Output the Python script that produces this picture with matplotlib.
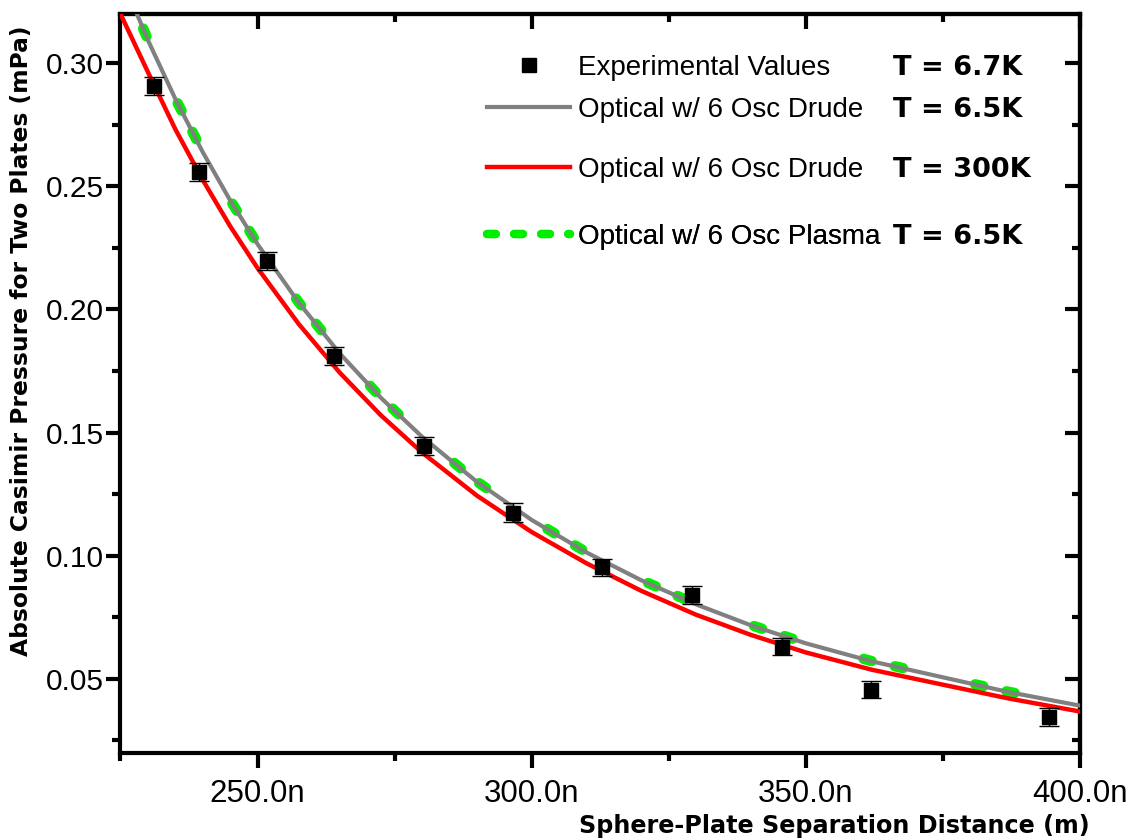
import matplotlib
matplotlib.use('Agg')
import matplotlib.pyplot as plt
from matplotlib.lines import Line2D
from matplotlib.ticker import FixedLocator, FuncFormatter

# measured points: separation (nm) and pressure (mPa)
exp_x = [231.1, 239.4, 251.7, 264.0, 280.4, 296.6, 312.9, 329.3, 345.6, 361.9, 394.4]
exp_y = [0.2908, 0.2558, 0.2198, 0.1810, 0.1445, 0.1175, 0.0952, 0.0840, 0.0630, 0.0456, 0.0344]
exp_err = [0.0037, 0.0036, 0.0036, 0.0037, 0.0036, 0.0037, 0.0036, 0.0037, 0.0035, 0.0036, 0.0036]

# theory curves (nm, mPa)
theory_x = [225, 230, 235, 240, 245, 250, 257.5, 265, 272.5, 280, 290, 300,
            310, 320, 330, 340, 350, 362, 375, 387, 400]
drude_65 = [0.3359, 0.3094, 0.2855, 0.2639, 0.2443, 0.2265, 0.2028, 0.1821, 0.1641, 0.1483,
            0.1300, 0.1145, 0.1013, 0.0900, 0.0802, 0.0717, 0.0644, 0.0571, 0.0506, 0.0446, 0.0391]
drude_300 = [0.3200, 0.2964, 0.2732, 0.2526, 0.2338, 0.2168, 0.1941, 0.1743, 0.1570, 0.1419,
             0.1244, 0.1096, 0.0969, 0.0857, 0.0760, 0.0678, 0.0607, 0.0537, 0.0476, 0.0420, 0.0367]
plasma_65 = [0.3360, 0.3095, 0.2856, 0.2640, 0.2444, 0.2266, 0.2029, 0.1822, 0.1642, 0.1484,
             0.1301, 0.1146, 0.1014, 0.0901, 0.0803, 0.0718, 0.0645, 0.0572, 0.0507, 0.0447, 0.0392]

x_major = [250, 300, 350, 400]
x_minor = [225, 275, 325, 375]
y_major = [0.05, 0.10, 0.15, 0.20, 0.25, 0.30]
y_minor = [0.025, 0.075, 0.125, 0.175, 0.225, 0.275]

legend_rows = ['Experimental Values', 'Optical w/ 6 Osc Drude',
               'Optical w/ 6 Osc Drude', 'Optical w/ 6 Osc Plasma']
legend_temps = ['T = 6.7K', 'T = 6.5K', 'T = 300K', 'T = 6.5K']

TICK_FONT = 'Liberation Sans'
LEG_FONT = 'Liberation Sans'
BOLD_FONT = 'DejaVu Sans'

fig = plt.figure(figsize=(11.42, 8.39), dpi=100)
ax = fig.add_axes([0.1055, 0.1029, 0.8402, 0.8805])

green_dash = (0.8, 2.28, 0.8, 7.1)
ax.plot(theory_x, plasma_65, color='#00ee00', lw=7.5, dashes=green_dash,
        dash_capstyle='round', zorder=2)
ax.plot(theory_x, drude_65, color='#808080', lw=3, zorder=3)
ax.plot(theory_x, drude_300, color='#ff0000', lw=3.2, zorder=4)
ax.errorbar(exp_x, exp_y, yerr=exp_err, fmt='s', color='black', ms=9.5,
            ecolor='black', elinewidth=1, capsize=7, capthick=1, zorder=5)

ax.set_xlim(225, 400)
ax.set_ylim(0.02, 0.32)

ax.xaxis.set_major_locator(FixedLocator(x_major))
ax.xaxis.set_minor_locator(FixedLocator(x_minor))
ax.yaxis.set_major_locator(FixedLocator(y_major))
ax.yaxis.set_minor_locator(FixedLocator(y_minor))
ax.xaxis.set_major_formatter(FuncFormatter(lambda v, p: '%.1fn' % v))
ax.yaxis.set_major_formatter(FuncFormatter(lambda v, p: '%.2f' % v))

for s in ax.spines.values():
    s.set_linewidth(3)
ax.tick_params(which='both', direction='out', width=3, top=False, right=False)
ax.tick_params(axis='x', which='major', length=11, pad=8)
ax.tick_params(axis='y', which='major', length=10, pad=2)
ax.tick_params(which='minor', length=6)
for lab in ax.get_xticklabels():
    lab.set_fontfamily(TICK_FONT)
    lab.set_fontsize(22.5)
for lab in ax.get_yticklabels():
    lab.set_fontfamily(TICK_FONT)
    lab.set_fontsize(21.5)

# inward ticks on top and right
top = ax.secondary_xaxis('top')
top.xaxis.set_major_locator(FixedLocator(x_major))
top.xaxis.set_minor_locator(FixedLocator(x_minor))
top.tick_params(which='both', direction='in', width=3, labeltop=False)
top.tick_params(which='major', length=11)
top.tick_params(which='minor', length=6)
top.spines['top'].set_linewidth(3)

right = ax.secondary_yaxis('right')
right.yaxis.set_major_locator(FixedLocator(y_major))
right.yaxis.set_minor_locator(FixedLocator(y_minor))
right.tick_params(which='both', direction='in', width=3, labelright=False)
right.tick_params(which='major', length=11)
right.tick_params(which='minor', length=6)
right.spines['right'].set_linewidth(3)

ax.set_xlabel('Sphere-Plate Separation Distance (m)', fontfamily=BOLD_FONT,
              fontweight='bold', fontsize=17.2, ha='right', va='center')
ax.xaxis.set_label_coords(1.0104, -0.099)
ax.set_ylabel('Absolute Casimir Pressure for Two Plates (mPa)', fontfamily=BOLD_FONT,
              fontweight='bold', fontsize=16.8, va='center')
ax.yaxis.set_label_coords(-0.1027, 0.557)

# legend: one row per entry, rows are not evenly spaced in the original
handles = [
    Line2D([], [], ls='none', marker='s', color='black', ms=9.5),
    Line2D([], [], color='#808080', lw=3),
    Line2D([], [], color='#ff0000', lw=3.2),
    Line2D([], [], color='#00ee00', lw=6, dashes=(1.05, 2.2), dash_capstyle='round'),
]
row_y = [0.927, 0.8699, 0.7887, 0.6980]
for h, txt, tmp, yy in zip(handles, legend_rows, legend_temps, row_y):
    leg = ax.legend([h], [txt], loc='center left', bbox_to_anchor=(0.382, yy),
                    frameon=False, borderpad=0, borderaxespad=0, handlelength=3.0,
                    handletextpad=0.29, prop={'family': LEG_FONT, 'size': 20})
    ax.add_artist(leg)
    ax.text(0.805, yy, tmp, transform=ax.transAxes, ha='left', va='center',
            fontfamily=BOLD_FONT, fontweight='bold', fontsize=19.5)

fig.savefig('out.png', dpi=100)
